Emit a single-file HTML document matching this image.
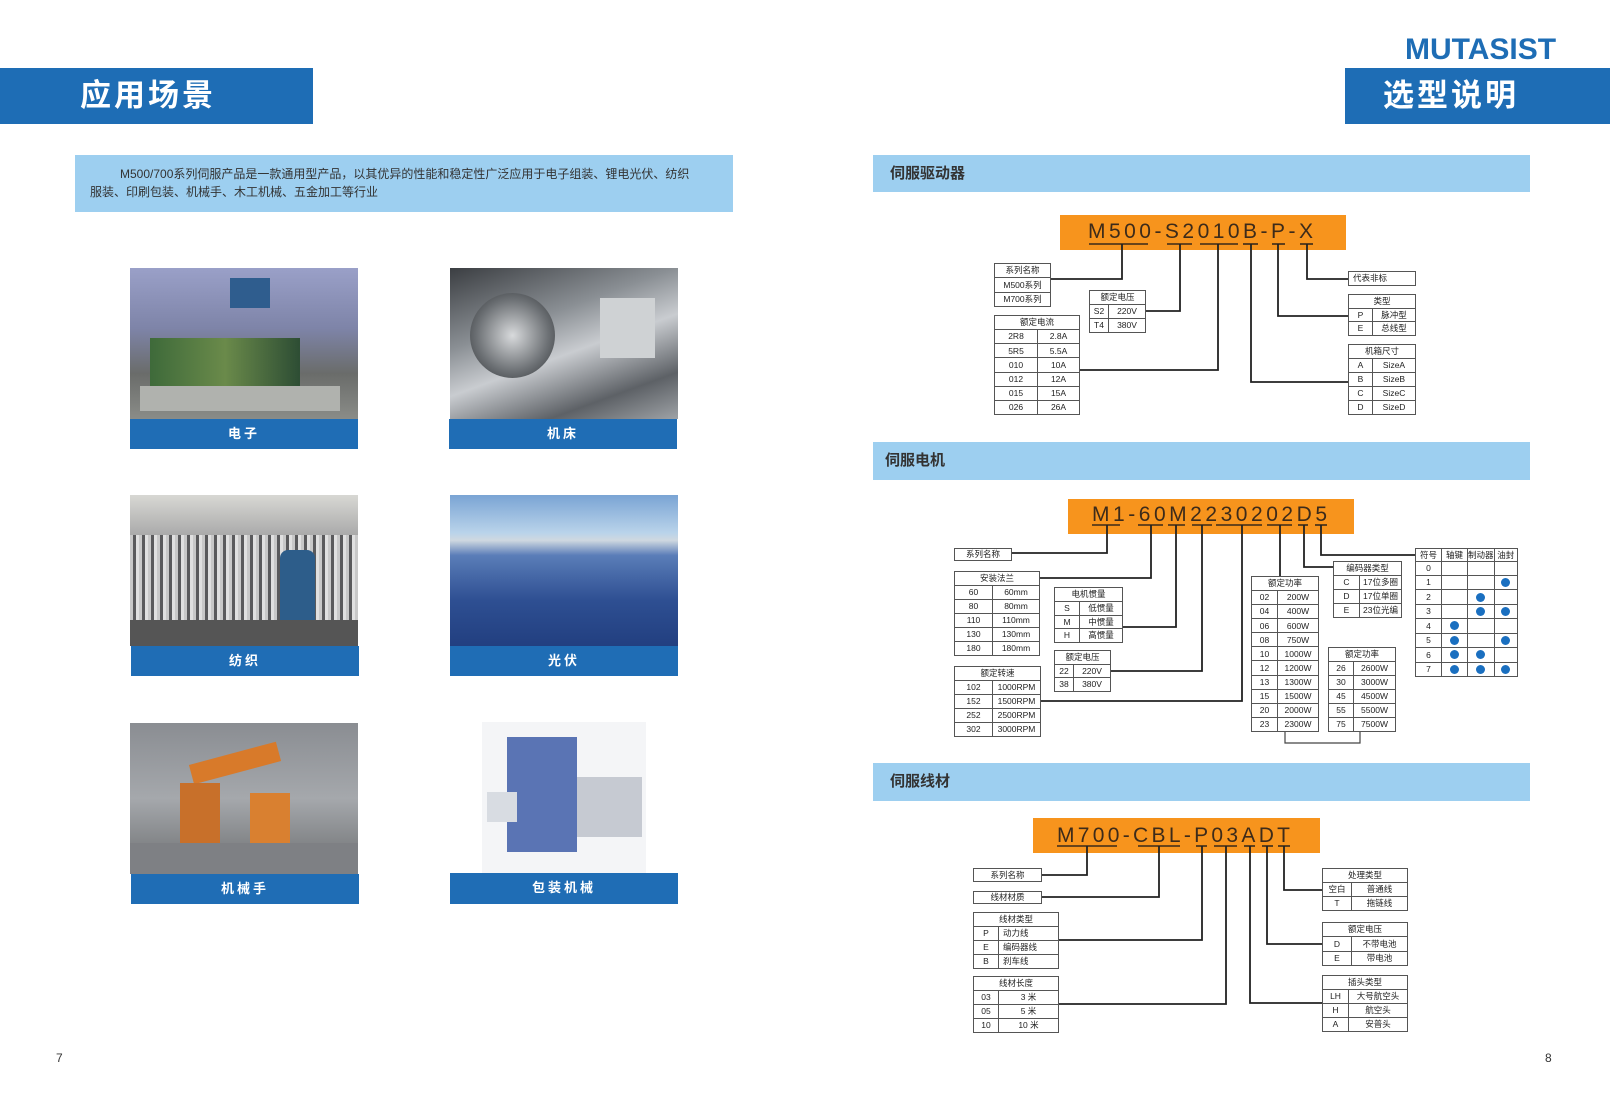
<!DOCTYPE html>
<html><head><meta charset="utf-8">
<style>
*{margin:0;padding:0;box-sizing:border-box}
body{width:1610px;height:1100px;background:#fff;position:relative;overflow:hidden;font-family:"Liberation Sans","Noto Sans CJK SC",sans-serif;color:#333}
.a{position:absolute}
.hdr{background:#1e6db5;color:#fff;font-weight:bold;font-size:31px;letter-spacing:3px;line-height:56px}
.sec{background:#9dcff0;font-size:15px;font-weight:bold;color:#333;line-height:37px;padding-left:17px}
.lbl{background:#1f6db5;color:#fff;font-weight:bold;font-size:13px;letter-spacing:3px;text-align:center;line-height:30px}
table.t{position:absolute;border-collapse:collapse;font-size:8.5px;color:#222;background:#fff}
table.t td{border:1.2px solid #555;text-align:center;padding:0;line-height:1;white-space:nowrap}
table.t td.l{text-align:left;padding-left:4px}
.dot{display:inline-block;width:9px;height:9px;border-radius:50%;background:#1a6fc0;vertical-align:middle}
</style></head><body>

<!-- left header -->
<div class="a hdr" style="left:0;top:68px;width:313px;height:56px;padding-left:80px">应用场景</div>
<div class="a" style="left:75px;top:155px;width:658px;height:57px;background:#9dcff0;font-size:12px;color:#333;line-height:18px;padding:10px 0 0 15px">
<div style="text-indent:30px">M500/700系列伺服产品是一款通用型产品，以其优异的性能和稳定性广泛应用于电子组装、锂电光伏、纺织</div>
<div>服装、印刷包装、机械手、木工机械、五金加工等行业</div></div>

<!-- photos -->
<div class="a" style="left:130px;top:268px;width:228px;height:151px;background:linear-gradient(180deg,#9aa0c8 0%,#7e84a8 40%,#6a6c6a 70%,#8a8c88 100%)">
 <div class="a" style="left:20px;top:70px;width:150px;height:50px;background:linear-gradient(90deg,#3e6a3a,#6a8a4a,#2d4d34)"></div>
 <div class="a" style="left:100px;top:10px;width:40px;height:30px;background:#2f5d8e"></div>
 <div class="a" style="left:10px;top:118px;width:200px;height:25px;background:#b0b2ae"></div></div>
<div class="a lbl" style="left:130px;top:419px;width:228px;height:30px">电子</div>

<div class="a" style="left:450px;top:268px;width:228px;height:151px;background:linear-gradient(160deg,#3b3e42 0%,#8a8f94 35%,#c9ccd0 55%,#5d6166 80%,#9ea2a6 100%)">
 <div class="a" style="left:20px;top:25px;width:85px;height:85px;border-radius:50%;background:radial-gradient(#d8dadc,#6c7074 60%,#2e3134)"></div>
 <div class="a" style="left:150px;top:30px;width:55px;height:60px;background:#cfd2d4"></div></div>
<div class="a lbl" style="left:449px;top:419px;width:228px;height:30px">机床</div>

<div class="a" style="left:130px;top:495px;width:228px;height:151px;background:repeating-linear-gradient(90deg,#c8c8c8 0 3px,#5a5a5c 3px 6px,#e0e0e0 6px 9px);">
 <div class="a" style="left:0;top:0;width:228px;height:40px;background:linear-gradient(180deg,#d8d8d4,#aaa)"></div>
 <div class="a" style="left:150px;top:55px;width:35px;height:80px;background:#2d5d8a;border-radius:8px"></div>
 <div class="a" style="left:0;top:125px;width:228px;height:26px;background:#555"></div></div>
<div class="a lbl" style="left:131px;top:646px;width:228px;height:30px">纺织</div>

<div class="a" style="left:450px;top:495px;width:228px;height:151px;background:linear-gradient(180deg,#7aa4d4 0%,#b9d3ea 25%,#cfd8e0 30%,#5a7db8 40%,#2e4f92 70%,#223f80 100%)"></div>
<div class="a lbl" style="left:450px;top:646px;width:228px;height:30px">光伏</div>

<div class="a" style="left:130px;top:723px;width:228px;height:151px;background:linear-gradient(180deg,#8a8d92 0%,#a5a8ac 50%,#6c6e70 100%)">
 <div class="a" style="left:60px;top:30px;width:90px;height:20px;background:#d87a2a;transform:rotate(-15deg)"></div>
 <div class="a" style="left:50px;top:60px;width:40px;height:60px;background:#c8702a"></div>
 <div class="a" style="left:120px;top:70px;width:40px;height:50px;background:#d98030"></div>
 <div class="a" style="left:0;top:120px;width:228px;height:31px;background:#7e8084"></div></div>
<div class="a lbl" style="left:131px;top:874px;width:228px;height:30px">机械手</div>

<div class="a" style="left:482px;top:722px;width:164px;height:152px;background:#f4f5f7">
 <div class="a" style="left:25px;top:15px;width:70px;height:115px;background:#5a74b4"></div>
 <div class="a" style="left:95px;top:55px;width:65px;height:60px;background:#c6cad2"></div>
 <div class="a" style="left:5px;top:70px;width:30px;height:30px;background:#d8dce2"></div></div>
<div class="a lbl" style="left:450px;top:873px;width:228px;height:31px">包装机械</div>

<div class="a" style="left:56px;top:1051px;font-size:12px;color:#333">7</div>
<div class="a" style="left:1545px;top:1051px;font-size:12px;color:#333">8</div>

<!-- right header -->
<div class="a" style="left:1405px;top:33px;font-size:30px;font-weight:bold;color:#1e6db5;letter-spacing:0px">MUTASIST</div>
<div class="a hdr" style="left:1345px;top:68px;width:265px;height:56px;padding-left:38px">选型说明</div>

<div class="a sec" style="left:873px;top:155px;width:657px;height:37px">伺服驱动器</div>
<div class="a sec" style="left:873px;top:442px;width:657px;height:38px;padding-left:12px">伺服电机</div>
<div class="a sec" style="left:873px;top:763px;width:657px;height:38px">伺服线材</div>

<!-- orange boxes -->
<div class="a" style="left:1060px;top:215px;width:286px;height:35px;background:#f7941d"></div>
<div class="a" style="left:1068px;top:499px;width:286px;height:35px;background:#f7941d"></div>
<div class="a" style="left:1033px;top:818px;width:287px;height:35px;background:#f7941d"></div>

<!-- tables: driver -->
<table class="t" style="left:994px;top:263px;width:57px;height:44px"><tr><td>系列名称</td></tr><tr><td>M500系列</td></tr><tr><td>M700系列</td></tr></table>
<table class="t" style="left:1089px;top:290px;width:57px;height:43px"><tr><td colspan="2">额定电压</td></tr><tr><td style="width:19px">S2</td><td>220V</td></tr><tr><td>T4</td><td>380V</td></tr></table>
<table class="t" style="left:994px;top:315px;width:86px;height:100px"><tr><td colspan="2">额定电流</td></tr><tr><td style="width:43px">2R8</td><td>2.8A</td></tr><tr><td>5R5</td><td>5.5A</td></tr><tr><td>010</td><td>10A</td></tr><tr><td>012</td><td>12A</td></tr><tr><td>015</td><td>15A</td></tr><tr><td>026</td><td>26A</td></tr></table>
<table class="t" style="left:1348px;top:271px;width:68px;height:15px"><tr><td class="l">代表非标</td></tr></table>
<table class="t" style="left:1348px;top:294px;width:68px;height:42px"><tr><td colspan="2">类型</td></tr><tr><td style="width:24px">P</td><td>脉冲型</td></tr><tr><td>E</td><td>总线型</td></tr></table>
<table class="t" style="left:1348px;top:344px;width:68px;height:71px"><tr><td colspan="2">机箱尺寸</td></tr><tr><td style="width:24px">A</td><td>SizeA</td></tr><tr><td>B</td><td>SizeB</td></tr><tr><td>C</td><td>SizeC</td></tr><tr><td>D</td><td>SizeD</td></tr></table>

<!-- tables: motor -->
<table class="t" style="left:954px;top:548px;width:58px;height:13px"><tr><td>系列名称</td></tr></table>
<table class="t" style="left:954px;top:571px;width:86px;height:85px"><tr><td colspan="2">安装法兰</td></tr><tr><td style="width:38px">60</td><td>60mm</td></tr><tr><td>80</td><td>80mm</td></tr><tr><td>110</td><td>110mm</td></tr><tr><td>130</td><td>130mm</td></tr><tr><td>180</td><td>180mm</td></tr></table>
<table class="t" style="left:1054px;top:587px;width:69px;height:56px"><tr><td colspan="2">电机惯量</td></tr><tr><td style="width:25px">S</td><td>低惯量</td></tr><tr><td>M</td><td>中惯量</td></tr><tr><td>H</td><td>高惯量</td></tr></table>
<table class="t" style="left:1054px;top:650px;width:57px;height:42px"><tr><td colspan="2">额定电压</td></tr><tr><td style="width:19px">22</td><td>220V</td></tr><tr><td>38</td><td>380V</td></tr></table>
<table class="t" style="left:954px;top:666px;width:87px;height:71px"><tr><td colspan="2">额定转速</td></tr><tr><td style="width:38px">102</td><td>1000RPM</td></tr><tr><td>152</td><td>1500RPM</td></tr><tr><td>252</td><td>2500RPM</td></tr><tr><td>302</td><td>3000RPM</td></tr></table>
<table class="t" style="left:1251px;top:576px;width:68px;height:156px"><tr><td colspan="2">额定功率</td></tr><tr><td style="width:26px">02</td><td>200W</td></tr><tr><td>04</td><td>400W</td></tr><tr><td>06</td><td>600W</td></tr><tr><td>08</td><td>750W</td></tr><tr><td>10</td><td>1000W</td></tr><tr><td>12</td><td>1200W</td></tr><tr><td>13</td><td>1300W</td></tr><tr><td>15</td><td>1500W</td></tr><tr><td>20</td><td>2000W</td></tr><tr><td>23</td><td>2300W</td></tr></table>
<table class="t" style="left:1328px;top:647px;width:68px;height:85px"><tr><td colspan="2">额定功率</td></tr><tr><td style="width:25px">26</td><td>2600W</td></tr><tr><td>30</td><td>3000W</td></tr><tr><td>45</td><td>4500W</td></tr><tr><td>55</td><td>5500W</td></tr><tr><td>75</td><td>7500W</td></tr></table>
<table class="t" style="left:1333px;top:561px;width:69px;height:57px"><tr><td colspan="2">编码器类型</td></tr><tr><td style="width:26px">C</td><td>17位多圈</td></tr><tr><td>D</td><td>17位单圈</td></tr><tr><td>E</td><td>23位光编</td></tr></table>
<table class="t" style="left:1415px;top:548px;width:103px;height:129px">
<tr><td style="width:26px">符号</td><td style="width:26px">轴键</td><td style="width:26px">制动器</td><td>油封</td></tr>
<tr><td>0</td><td></td><td></td><td></td></tr>
<tr><td>1</td><td></td><td></td><td><span class="dot"></span></td></tr>
<tr><td>2</td><td></td><td><span class="dot"></span></td><td></td></tr>
<tr><td>3</td><td></td><td><span class="dot"></span></td><td><span class="dot"></span></td></tr>
<tr><td>4</td><td><span class="dot"></span></td><td></td><td></td></tr>
<tr><td>5</td><td><span class="dot"></span></td><td></td><td><span class="dot"></span></td></tr>
<tr><td>6</td><td><span class="dot"></span></td><td><span class="dot"></span></td><td></td></tr>
<tr><td>7</td><td><span class="dot"></span></td><td><span class="dot"></span></td><td><span class="dot"></span></td></tr></table>

<!-- tables: cable -->
<table class="t" style="left:973px;top:868px;width:69px;height:14px"><tr><td>系列名称</td></tr></table>
<table class="t" style="left:973px;top:891px;width:69px;height:13px"><tr><td>线材材质</td></tr></table>
<table class="t" style="left:973px;top:912px;width:86px;height:57px"><tr><td colspan="2">线材类型</td></tr><tr><td style="width:25px">P</td><td class="l">动力线</td></tr><tr><td>E</td><td class="l">编码器线</td></tr><tr><td>B</td><td class="l">刹车线</td></tr></table>
<table class="t" style="left:973px;top:976px;width:86px;height:57px"><tr><td colspan="2">线材长度</td></tr><tr><td style="width:25px">03</td><td>3 米</td></tr><tr><td>05</td><td>5 米</td></tr><tr><td>10</td><td>10 米</td></tr></table>
<table class="t" style="left:1322px;top:868px;width:86px;height:43px"><tr><td colspan="2">处理类型</td></tr><tr><td style="width:29px">空白</td><td>普通线</td></tr><tr><td>T</td><td>拖链线</td></tr></table>
<table class="t" style="left:1322px;top:922px;width:86px;height:44px"><tr><td colspan="2">额定电压</td></tr><tr><td style="width:29px">D</td><td>不带电池</td></tr><tr><td>E</td><td>带电池</td></tr></table>
<table class="t" style="left:1322px;top:975px;width:86px;height:57px"><tr><td colspan="2">插头类型</td></tr><tr><td style="width:26px">LH</td><td>大号航空头</td></tr><tr><td>H</td><td>航空头</td></tr><tr><td>A</td><td>安普头</td></tr></table>

<svg class="a" style="left:0;top:0" width="1610" height="1100" viewBox="0 0 1610 1100">
<g font-family="Liberation Sans, sans-serif" font-size="21" fill="#3d2b1a">
<text x="1088" y="238" textLength="225" lengthAdjust="spacing">M500-S2010B-P-X</text>
<text x="1092" y="521" textLength="235" lengthAdjust="spacing">M1-60M2230202D5</text>
<text x="1057" y="842" textLength="233" lengthAdjust="spacing">M700-CBL-P03ADT</text>
</g>
<g stroke="#3a2a1a" stroke-width="1.6">
<line x1="1089" y1="244" x2="1148" y2="244"/><line x1="1167" y1="244" x2="1192" y2="244"/><line x1="1200" y1="244" x2="1238" y2="244"/><line x1="1243" y1="244" x2="1258" y2="244"/><line x1="1272" y1="244" x2="1285" y2="244"/><line x1="1300" y1="244" x2="1313" y2="244"/>
<line x1="1092" y1="525" x2="1120" y2="525"/><line x1="1138" y1="525" x2="1163" y2="525"/><line x1="1168" y1="525" x2="1185" y2="525"/><line x1="1192" y1="525" x2="1212" y2="525"/><line x1="1216" y1="525" x2="1262" y2="525"/><line x1="1267" y1="525" x2="1292" y2="525"/><line x1="1298" y1="525" x2="1308" y2="525"/><line x1="1315" y1="525" x2="1327" y2="525"/>
<line x1="1057" y1="846" x2="1117" y2="846"/><line x1="1138" y1="846" x2="1180" y2="846"/><line x1="1196" y1="846" x2="1207" y2="846"/><line x1="1214" y1="846" x2="1237" y2="846"/><line x1="1244" y1="846" x2="1255" y2="846"/><line x1="1262" y1="846" x2="1273" y2="846"/><line x1="1278" y1="846" x2="1290" y2="846"/>
</g>
<g fill="none" stroke="#222" stroke-width="1.8">
<polyline points="1122,244 1122,279 1051,279"/>
<polyline points="1180,244 1180,311 1146,311"/>
<polyline points="1218,244 1218,370 1080,370"/>
<polyline points="1251,244 1251,382 1348,382"/>
<polyline points="1278,244 1278,316 1348,316"/>
<polyline points="1307,244 1307,279 1348,279"/>
<polyline points="1107,525 1107,553 1012,553"/>
<polyline points="1151,525 1151,578 1040,578"/>
<polyline points="1176,525 1176,627 1123,627"/>
<polyline points="1202,525 1202,671 1111,671"/>
<polyline points="1242,525 1242,701 1041,701"/>
<polyline points="1280,525 1280,576"/>
<polyline points="1304,525 1304,567 1333,567"/>
<polyline points="1321,525 1321,555 1415,555"/>
<polyline points="1087,846 1087,875 1042,875"/>
<polyline points="1159,846 1159,897 1042,897"/>
<polyline points="1202,846 1202,940 1059,940"/>
<polyline points="1226,846 1226,1004 1059,1004"/>
<polyline points="1250,846 1250,1003 1322,1003"/>
<polyline points="1267,846 1267,944 1322,944"/>
<polyline points="1284,846 1284,890 1322,890"/>
</g>
<polyline points="1285,732 1285,743 1360,743 1360,732" fill="none" stroke="#444" stroke-width="1.2"/>
</svg>
</body></html>
